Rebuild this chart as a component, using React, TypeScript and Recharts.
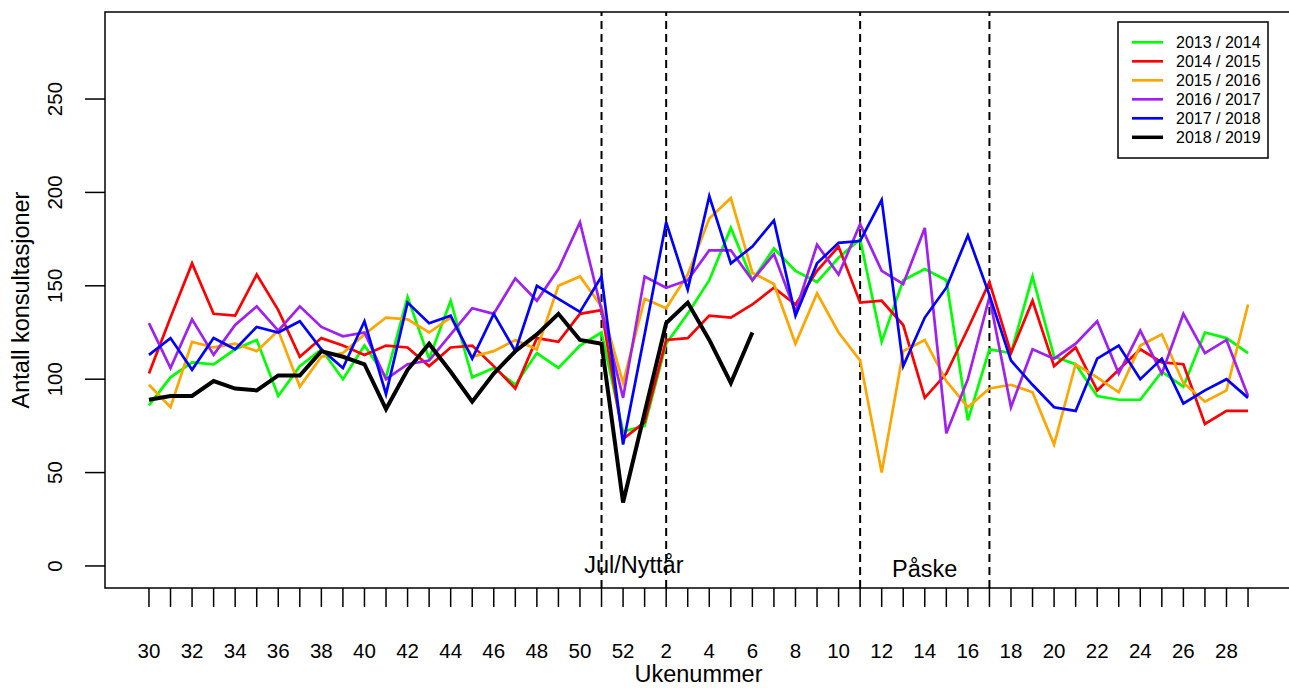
import React from "react";
import {
  LineChart,
  Line,
  XAxis,
  YAxis,
  ReferenceLine,
  ReferenceArea,
  Legend,
  Label,
} from "recharts";

const FONT = "'Liberation Sans', Arial, Helvetica, sans-serif";

// uke 30 .. 52, 1 .. 29
const weekLabels = [
  30, 31, 32, 33, 34, 35, 36, 37, 38, 39, 40, 41, 42, 43, 44, 45, 46, 47, 48, 49, 50, 51, 52,
  1, 2, 3, 4, 5, 6, 7, 8, 9, 10, 11, 12, 13, 14, 15, 16, 17, 18, 19, 20, 21, 22, 23, 24, 25, 26, 27, 28, 29,
];

const s2013 = [
  86, 101, 109, 108, 116, 121, 91, 107, 116, 100, 118, 101, 144, 111, 142, 101, 106, 97, 114, 106, 118, 125, 72,
  75, 119, 135, 153, 181, 153, 170, 158, 152, 165, 175, 120, 153, 159, 153, 78, 116, 114, 155, 112, 108, 91, 89,
  89, 104, 96, 125, 122, 114,
];
const s2014 = [
  103, 133, 162, 135, 134, 156, 137, 112, 122, 118, 113, 118, 117, 107, 117, 118, 107, 95, 122, 120, 135, 137, 68,
  77, 121, 122, 134, 133, 140, 149, 140, 158, 171, 141, 142, 129, 90, 103, 127, 152, 114, 142, 107, 117, 94, 105,
  116, 109, 108, 76, 83, 83,
];
const s2015 = [
  97, 85, 120, 117, 119, 115, 126, 96, 112, 114, 124, 133, 132, 125, 133, 112, 115, 121, 116, 150, 155, 139, 98,
  143, 138, 156, 186, 197, 157, 151, 119, 146, 125, 110, 50, 115, 121, 99, 85, 95, 97, 93, 65, 108, 101, 93, 118,
  124, 98, 88, 94, 140,
];
const s2016 = [
  130, 106, 132, 113, 129, 139, 126, 139, 128, 123, 125, 100, 108, 110, 124, 138, 135, 154, 142, 159, 184, 137, 90,
  155, 149, 153, 169, 169, 153, 167, 136, 172, 156, 183, 158, 151, 181, 71, 100, 144, 85, 116, 111, 119, 131, 103,
  126, 103, 135, 114, 121, 91,
];
const s2017 = [
  113, 122, 105, 122, 116, 128, 125, 131, 116, 106, 131, 92, 141, 130, 134, 111, 135, 115, 150, 143, 136, 155, 65,
  124, 184, 148, 198, 162, 171, 185, 134, 162, 173, 174, 196, 107, 133, 149, 177, 145, 110, 97, 85, 83, 111, 118,
  100, 111, 87, 94, 100, 90,
];
const s2018 = [
  89, 91, 91, 99, 95, 94, 102, 102, 115, 112, 108, 84, 105, 119, 104, 88, 103, 115, 124, 135, 121, 119, 34,
  82, 130, 141, 121, 98, 125,
];

const yTicks = [0, 50, 100, 150, 200, 250];
// uke 51, 2, 11, 17 (indekser i weekLabels)
const markerIdx = [21, 24, 33, 39];

const data = weekLabels.map((w, i) => ({
  i,
  week: w,
  g: s2013[i],
  r: s2014[i],
  o: s2015[i],
  p: s2016[i],
  b: s2017[i],
  k: i < s2018.length ? s2018[i] : null,
}));

const XTick = ({ x, y, payload }: any) => {
  const i = payload.value;
  return (
    <g>
      <line x1={x} x2={x} y1={y} y2={y + 19} stroke="#000" strokeWidth={1.5} />
      {i % 2 === 0 && (
        <text x={x} y={y + 69.5} textAnchor="middle" fontSize={20.5} fontFamily={FONT} fill="#000">
          {weekLabels[i]}
        </text>
      )}
    </g>
  );
};

const YTick = ({ x, y, payload }: any) => (
  <g>
    <line x1={x - 20} x2={x} y1={y} y2={y} stroke="#000" strokeWidth={1.5} />
    <text
      x={x - 43}
      y={y}
      transform={`rotate(-90 ${x - 43} ${y})`}
      textAnchor="middle"
      fontSize={20.5}
      fontFamily={FONT}
      fill="#000"
    >
      {payload.value}
    </text>
  </g>
);

const LegendBox = ({ payload }: any) => (
  <svg width={153} height={139} style={{ display: "block" }}>
    <rect x={1} y={1} width={150} height={136} fill="#fff" stroke="#000" strokeWidth={1.5} />
    {(payload || []).map((item: any, k: number) => {
      const cy = 21.3 + 19 * k;
      return (
        <g key={item.value}>
          <line x1={15} x2={46} y1={cy} y2={cy} stroke={item.color} strokeWidth={item.color === "#000000" ? 3.5 : 2.7} />
          <text x={59} y={cy + 5.7} fontSize={16} fontFamily={FONT} fill="#000">
            {item.value}
          </text>
        </g>
      );
    })}
  </svg>
);

const YTitle = ({ viewBox }: any) => {
  const cx = 28.5;
  const cy = viewBox.y + viewBox.height / 2;
  return (
    <text x={cx} y={cy} transform={`rotate(-90 ${cx} ${cy})`} textAnchor="middle" fontSize={23.5} fontFamily={FONT} fill="#000">
      Antall konsultasjoner
    </text>
  );
};

export default function App() {
  return (
    <div style={{ position: "absolute", left: 0, top: 0, width: 1289, height: 688, overflow: "hidden", background: "#fff" }}>
      <LineChart width={1295} height={688} data={data} margin={{ top: 12, right: 3, bottom: 0, left: 0 }}>
        <XAxis
          dataKey="i"
          type="number"
          domain={[-2.04, 53.04]}
          ticks={weekLabels.map((_, i) => i)}
          interval={0}
          allowDataOverflow
          height={100}
          axisLine={false}
          tickLine={false}
          tickSize={0}
          tickMargin={0}
          tick={<XTick />}
        >
          <Label value="Ukenummer" position="insideBottom" offset={6} fontSize={23.5} fontFamily={FONT} fill="#000" />
        </XAxis>
        <YAxis
          type="number"
          domain={[-11.8, 296.6]}
          ticks={yTicks}
          allowDataOverflow
          width={105}
          axisLine={false}
          tickLine={false}
          tickSize={0}
          tickMargin={0}
          tick={<YTick />}
        >
          <Label content={<YTitle />} />
        </YAxis>

        <ReferenceArea
          x1={-2.04}
          x2={53.04}
          y1={-11.8}
          y2={296.6}
          fill="none"
          fillOpacity={0}
          stroke="#000"
          strokeWidth={1.5}
          ifOverflow="visible"
        />
        <ReferenceArea x1={21} x2={24} fill="none" fillOpacity={0} strokeOpacity={0} ifOverflow="visible">
          <Label value="Jul/Nyttår" position="insideBottom" offset={15} fontSize={23.5} fontFamily={FONT} fill="#000" />
        </ReferenceArea>
        <ReferenceArea x1={33} x2={39} fill="none" fillOpacity={0} strokeOpacity={0} ifOverflow="visible">
          <Label value="Påske" position="insideBottom" offset={11} fontSize={23.5} fontFamily={FONT} fill="#000" />
        </ReferenceArea>
        {markerIdx.map((m) => (
          <ReferenceLine key={m} x={m} stroke="#000" strokeWidth={2} strokeDasharray="8 5" />
        ))}

        <Line type="linear" dataKey="g" name="2013 / 2014" stroke="#00ff00" strokeWidth={2.7} dot={false} isAnimationActive={false} />
        <Line type="linear" dataKey="r" name="2014 / 2015" stroke="#ff0000" strokeWidth={2.7} dot={false} isAnimationActive={false} />
        <Line type="linear" dataKey="o" name="2015 / 2016" stroke="#ffa500" strokeWidth={2.7} dot={false} isAnimationActive={false} />
        <Line type="linear" dataKey="p" name="2016 / 2017" stroke="#a020f0" strokeWidth={2.7} dot={false} isAnimationActive={false} />
        <Line type="linear" dataKey="b" name="2017 / 2018" stroke="#0000ff" strokeWidth={2.7} dot={false} isAnimationActive={false} />
        <Line type="linear" dataKey="k" name="2018 / 2019" stroke="#000000" strokeWidth={4} dot={false} isAnimationActive={false} />

        <Legend
          layout="vertical"
          align="center"
          verticalAlign="middle"
          content={<LegendBox />}
          wrapperStyle={{ position: "absolute", left: 1117, top: 21, width: 153, height: 139 }}
        />
      </LineChart>
    </div>
  );
}
